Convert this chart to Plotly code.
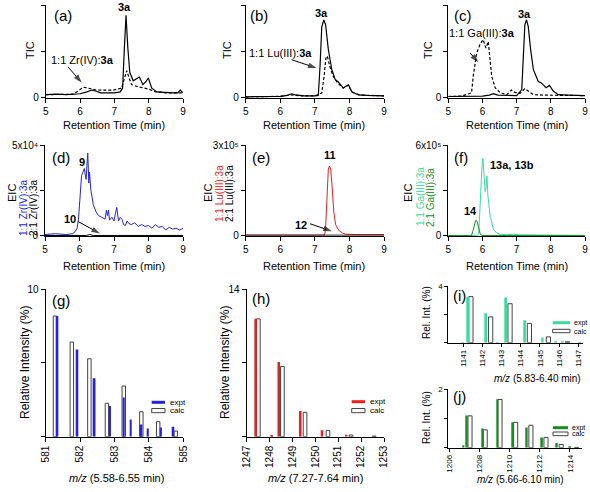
import plotly.graph_objects as go

W, H = 590, 492
def fx(px): return px / W
def fy(py): return 1 - py / H

# ---------------- DATA ----------------
# (a) TIC, units of 1e6
a_x_solid = [5.0, 5.3, 5.6, 5.9, 6.0, 6.2, 6.35, 6.45, 6.6, 6.8, 7.0, 7.17, 7.24, 7.29, 7.34, 7.39, 7.45, 7.55, 7.65, 7.73, 7.83, 7.92, 7.99, 8.09, 8.24, 8.5, 8.7, 8.85, 8.92, 9.0]
a_y_solid = [0.03, 0.035, 0.03, 0.035, 0.04, 0.06, 0.08, 0.07, 0.05, 0.05, 0.05, 0.06, 0.1, 0.52, 0.89, 0.55, 0.27, 0.18, 0.2, 0.22, 0.14, 0.17, 0.21, 0.1, 0.06, 0.05, 0.05, 0.05, 0.08, 0.05]
a_x_dash = [5.0, 5.4, 5.8, 5.95, 6.05, 6.12, 6.24, 6.48, 6.75, 6.97, 7.21, 7.28, 7.36, 7.44, 7.5, 7.65, 7.85, 8.0, 8.2, 8.5, 9.0]
a_y_dash = [0.03, 0.03, 0.035, 0.07, 0.1, 0.11, 0.1, 0.08, 0.08, 0.08, 0.1, 0.2, 0.29, 0.2, 0.14, 0.12, 0.1, 0.09, 0.06, 0.05, 0.05]

# (b) TIC, units of 1e6
b_x_solid = [5.0, 5.5, 6.0, 6.2, 6.33, 6.45, 6.7, 7.0, 7.1, 7.15, 7.2, 7.26, 7.31, 7.39, 7.49, 7.59, 7.68, 7.82, 7.9, 7.97, 8.07, 8.26, 8.5, 9.0]
b_y_solid = [0.02, 0.025, 0.03, 0.05, 0.085, 0.06, 0.04, 0.04, 0.05, 0.68, 1.53, 1.68, 1.58, 1.04, 0.61, 0.39, 0.34, 0.21, 0.24, 0.28, 0.13, 0.06, 0.05, 0.04]
b_x_dash = [5.0, 5.5, 6.0, 6.3, 6.6, 7.0, 7.2, 7.27, 7.32, 7.36, 7.43, 7.52, 7.66, 7.82, 7.97, 8.07, 8.3, 8.6, 9.0]
b_y_dash = [0.02, 0.02, 0.03, 0.06, 0.04, 0.04, 0.1, 0.48, 0.86, 0.9, 0.68, 0.48, 0.32, 0.21, 0.27, 0.12, 0.06, 0.05, 0.04]

# (c) TIC, units of 1e6
c_x_solid = [5.0, 5.5, 6.0, 6.2, 6.32, 6.45, 6.7, 7.0, 7.15, 7.2, 7.24, 7.29, 7.34, 7.41, 7.49, 7.63, 7.73, 7.86, 7.96, 8.07, 8.22, 8.5, 9.0]
c_y_solid = [0.02, 0.02, 0.03, 0.05, 0.08, 0.05, 0.04, 0.04, 0.17, 1.03, 1.57, 1.68, 1.53, 1.03, 0.6, 0.35, 0.31, 0.21, 0.26, 0.14, 0.06, 0.05, 0.04]
c_x_dash = [5.0, 5.4, 5.68, 5.73, 5.83, 5.93, 6.02, 6.1, 6.17, 6.27, 6.37, 6.52, 6.71, 6.85, 6.95, 7.1, 7.24, 7.34, 7.49, 7.8, 8.3, 9.0]
c_y_dash = [0.02, 0.03, 0.1, 0.46, 0.96, 1.15, 1.25, 1.07, 1.21, 0.46, 0.21, 0.1, 0.06, 0.16, 0.11, 0.09, 0.19, 0.14, 0.06, 0.05, 0.04, 0.04]

# (d) EIC, units of 1e4
d_x_11 = [5.0, 5.3, 5.6, 5.8, 5.87, 5.93, 5.97, 6.02, 6.06, 6.10, 6.14, 6.19, 6.24, 6.27, 6.29, 6.33, 6.40, 6.48, 6.55, 6.65, 6.74, 6.78, 6.81, 6.84, 6.87, 6.94, 7.0, 7.04, 7.08, 7.13, 7.18, 7.23, 7.28, 7.33, 7.38, 7.43, 7.5, 7.6, 7.7, 7.8, 7.9, 8.0, 8.1, 8.2, 8.3, 8.4, 8.5, 8.6, 8.7, 8.8, 8.9, 8.96, 9.0]
d_y_11 = [0.05, 0.1, 0.05, 0.1, 0.2, 0.4, 0.9, 2.0, 3.3, 3.5, 3.7, 3.1, 4.55, 2.9, 3.5, 2.5, 1.7, 1.3, 1.1, 1.0, 0.9, 1.4, 1.1, 1.4, 0.85, 1.0, 0.8, 1.2, 1.55, 0.8, 1.0, 0.9, 0.6, 0.55, 0.8, 0.66, 0.6, 0.7, 0.5, 0.6, 0.5, 0.55, 0.4, 0.6, 0.45, 0.5, 0.3, 0.45, 0.35, 0.4, 0.3, 0.35, 0.4]
d_x_21 = [5.0, 6.2, 6.3, 6.4, 9.0]
d_y_21 = [0.0, 0.0, 0.05, 0.0, 0.0]

# (e) EIC, units of 1e5
e_x_11 = [5.0, 7.28, 7.31, 7.33, 7.36, 7.39, 7.42, 7.46, 7.5, 7.55, 7.6, 7.7, 7.8, 7.9, 8.2, 8.6, 9.0]
e_y_11 = [0.0, 0.0, 0.2, 0.8, 1.6, 2.2, 2.3, 2.2, 1.6, 0.75, 0.35, 0.15, 0.07, 0.03, 0.02, 0.02, 0.02]
e_x_21 = [5.0, 9.0]
e_y_21 = [0.0, 0.0]

# (f) EIC, units of 1e5
f_x_11 = [5.0, 5.85, 5.89, 5.93, 5.98, 6.01, 6.04, 6.08, 6.11, 6.13, 6.16, 6.18, 6.21, 6.23, 6.26, 6.32, 6.42, 6.52, 6.7, 6.9, 7.1, 7.4, 7.6, 9.0]
f_y_11 = [0.0, 0.0, 0.1, 2.4, 4.35, 5.1, 4.0, 2.9, 3.2, 3.95, 2.6, 2.1, 1.65, 1.2, 1.0, 0.4, 0.15, 0.08, 0.05, 0.08, 0.04, 0.03, 0.0, 0.0]
f_x_21 = [5.0, 5.68, 5.72, 5.76, 5.8, 5.84, 5.89, 5.94, 6.0, 9.0]
f_y_21 = [0.0, 0.0, 0.3, 0.75, 1.0, 0.95, 0.5, 0.05, 0.0, 0.0]

# (g) isotope pattern, m/z 581-585
g_calc_mz = [581.27, 581.76, 582.27, 582.78, 583.27, 583.78, 584.27, 584.78]
g_calc_int = [8.17, 6.41, 5.28, 2.26, 3.43, 1.69, 1.02, 0.38]
g_expt_mz = [581.34, 581.92, 582.42, 582.87, 583.27, 583.47, 583.78, 583.97, 584.35, 584.71]
g_expt_int = [8.17, 5.91, 3.95, 2.08, 2.66, 1.17, 0.83, 0.56, 0.63, 0.68]

# (h) isotope pattern, m/z 1247-1253
h_expt_mz = [1247.39, 1248.09, 1248.40, 1249.34, 1250.29, 1251.35]
h_expt_int = [11.17, 0.1, 7.09, 2.44, 0.6, 0.19]
h_calc_mz = [1247.51, 1248.56, 1249.55, 1250.55, 1251.56, 1252.57]
h_calc_int = [11.17, 6.65, 2.31, 0.6, 0.16, 0.06]

# (i) isotope pattern, m/z 1141-1147
i_expt_mz = [1140.97, 1141.26, 1142.19, 1142.8, 1143.23, 1144.22, 1145.14, 1145.83, 1146.18, 1147.1]
i_expt_int = [0.02, 3.25, 2.07, 0.02, 3.18, 1.59, 0.36, 0.05, 0.09, 0.03]
i_calc_mz = [1141.40, 1142.43, 1143.44, 1144.45, 1145.44, 1146.43]
i_calc_int = [3.25, 1.82, 2.75, 1.36, 0.41, 0.07]

# (j) isotope pattern, m/z 1206-1214
j_expt_mz = [1206.93, 1207.15, 1208.21, 1209.18, 1210.2, 1211.13, 1212.14, 1213.12, 1214.0]
j_expt_int = [0.08, 1.10, 0.66, 1.66, 0.87, 0.69, 0.35, 0.16, 0.02]
j_calc_mz = [1207.37, 1208.38, 1209.36, 1210.4, 1211.41, 1212.41, 1213.42, 1214.44]
j_calc_int = [1.09, 0.61, 1.65, 0.87, 0.77, 0.35, 0.11, 0.01]

# tick labels
rt_ticks = [5, 6, 7, 8, 9]
g_ticks = [581, 582, 583, 584, 585]
h_ticks = [1247, 1248, 1249, 1250, 1251, 1252, 1253]
i_ticks = [1141, 1142, 1143, 1144, 1145, 1146, 1147]
j_ticks = [1206, 1208, 1210, 1212, 1214]

# ---------------- STYLE ----------------
FONT = "Liberation Sans, Arial, sans-serif"
BLUE = "#2323dd"
RED = "#ee1c1c"
MINT = "#38dc9c"
DKGREEN = "#178c1f"
CALC_LINE = "#444444"

# panel pixel boxes: left, right, top, bottom
boxes = {
    1: (45.7, 183.0, 5.0, 98.0),
    2: (245.7, 384.0, 5.0, 98.3),
    3: (448.3, 585.0, 5.0, 98.0),
    4: (45.0, 183.0, 145.0, 236.0),
    5: (245.7, 384.0, 145.0, 235.7),
    6: (448.3, 585.0, 145.0, 236.0),
    7: (45.7, 183.3, 289.0, 436.7),
    8: (246.7, 384.0, 289.0, 436.7),
    9: (448.3, 582.7, 286.0, 342.7),
    10: (448.3, 581.7, 389.3, 447.7),
}

fig = go.Figure()

def ax(i):
    return ("x" if i == 1 else f"x{i}"), ("y" if i == 1 else f"y{i}")

def line(i, x, y, color, width=1.2, dash=None):
    xa, ya = ax(i)
    fig.add_trace(go.Scatter(x=x, y=y, mode="lines", xaxis=xa, yaxis=ya,
                             line=dict(color=color, width=width, dash=dash),
                             showlegend=False, hoverinfo="x+y"))

def bars(i, x, y, width, fill, outline=None):
    xa, ya = ax(i)
    mk = dict(color=fill, line=dict(width=0))
    if outline:
        mk["line"] = dict(color=outline, width=1)
    fig.add_trace(go.Bar(x=x, y=y, width=width, xaxis=xa, yaxis=ya,
                         marker=mk, showlegend=False))

DASH = "3px,2px"
line(1, a_x_dash, a_y_dash, "black", 1.2, DASH)
line(1, a_x_solid, a_y_solid, "black", 1.2)
line(2, b_x_dash, b_y_dash, "black", 1.2, DASH)
line(2, b_x_solid, b_y_solid, "black", 1.2)
line(3, c_x_dash, c_y_dash, "black", 1.2, DASH)
line(3, c_x_solid, c_y_solid, "black", 1.2)

line(4, d_x_11, d_y_11, BLUE, 1.0)
line(4, d_x_21, d_y_21, "black", 1.0)
line(5, e_x_11, e_y_11, RED, 1.0)
line(5, e_x_21, e_y_21, "black", 1.0)
line(6, f_x_11, f_y_11, MINT, 1.0)
line(6, f_x_21, f_y_21, DKGREEN, 1.0)

bars(7, g_calc_mz, g_calc_int, 0.1, "white", CALC_LINE)
bars(7, g_expt_mz, g_expt_int, 0.055, BLUE)
bars(8, h_calc_mz, h_calc_int, 0.16, "white", CALC_LINE)
bars(8, h_expt_mz, h_expt_int, 0.11, RED)
bars(9, i_calc_mz, i_calc_int, 0.22, "white", CALC_LINE)
bars(9, i_expt_mz, i_expt_int, 0.1, MINT)
bars(10, j_calc_mz, j_calc_int, 0.27, "white", CALC_LINE)
bars(10, j_expt_mz, j_expt_int, 0.13, DKGREEN)

# ---------------- ARROWS (annotation pointers) ----------------
def arrow(i, tx, ty, hx, hy):
    xa, ya = ax(i)
    fig.add_trace(go.Scatter(x=[tx, hx], y=[ty, hy], mode="lines+markers",
                             xaxis=xa, yaxis=ya, showlegend=False, hoverinfo="skip",
                             line=dict(color="black", width=1),
                             marker=dict(symbol="arrow", size=[0, 9], color="black",
                                         angleref="previous", line=dict(width=0))))

arrow(1, 5.65, 0.33, 6.05, 0.16)
arrow(2, 6.33, 0.82, 7.05, 0.64)
arrow(3, 5.64, 0.96, 5.88, 0.76)
arrow(4, 5.96, 0.77, 6.59, 0.11)
arrow(5, 6.86, 0.38, 7.49, 0.13)

# ---------------- AXES ----------------
base = dict(showline=True, linecolor="black", linewidth=1, ticks="outside",
            ticklen=4, tickcolor="black", tickwidth=1, showgrid=False,
            zeroline=False, mirror=False, fixedrange=True, automargin=False,
            tickfont=dict(family=FONT, size=10, color="black"))

yspec = {
    1: (1.0, "1x10\u2076"), 2: (2.0, "2x10\u2076"), 3: (2.0, "2x10\u2076"),
    4: (5.0, "5x10\u2074"), 5: (3.0, "3x10\u2075"), 6: (6.0, "6x10\u2075"),
}
xspec = {
    7: (581, 585, g_ticks, 10), 8: (1247, 1253, h_ticks, 10),
    9: (1140.22, 1147.23, i_ticks, 8), 10: (1205.93, 1214.78, j_ticks, 8),
}
ymax_bars = {7: ("10", 10), 8: ("14", 14), 9: ("4", 4), 10: ("2", 2)}

layout = dict(width=W, height=H, margin=dict(l=0, r=0, t=0, b=0, autoexpand=False),
              paper_bgcolor="white", plot_bgcolor="white", template="none",
              barmode="overlay", font=dict(family=FONT, color="black"),
              showlegend=False)

for i, (l, r, t, b) in boxes.items():
    xk = "xaxis" if i == 1 else f"xaxis{i}"
    yk = "yaxis" if i == 1 else f"yaxis{i}"
    xa, ya = ax(i)
    xd = dict(base, domain=[fx(l), fx(r)], anchor=ya)
    yd = dict(base, domain=[fy(b), fy(t)], anchor=xa)
    tl = 3 if i >= 9 else 4
    if i <= 6:
        xd.update(range=[5, 9], tickmode="array", tickvals=rt_ticks,
                  ticktext=[str(v) for v in rt_ticks])
        top, lab = yspec[i]
        yd.update(range=[-0.006 * top, top], tickmode="array", tickvals=[0, top],
                  ticktext=["0", lab])
    else:
        lo, hi, tv, fs = xspec[i]
        xd.update(range=[lo, hi], tickmode="array", tickvals=tv,
                  ticktext=[str(v) for v in tv],
                  tickangle=-90, tickfont=dict(family=FONT, size=fs, color="black"))
        lab, top = ymax_bars[i]
        yd.update(range=[0, top], tickmode="array", tickvals=[top], ticktext=[lab],
                  tickfont=dict(family=FONT, size=(10 if i <= 8 else 8), color="black"))
        xd.update(ticklen=tl)
        yd.update(ticklen=tl)
    yd["minor"] = dict(tickmode="array", tickvals=[0, top / 2] if i >= 7 else [top / 2],
                       ticks="outside", ticklen=tl, tickcolor="black", tickwidth=1,
                       showgrid=False)
    layout[xk] = xd
    layout[yk] = yd

fig.update_layout(**layout)

# ---------------- TEXT ANNOTATIONS ----------------
anns = []
def ptext(px, py, text, size=11, angle=0, color="black", xanchor="center", yanchor="middle"):
    anns.append(dict(x=fx(px), y=fy(py), xref="paper", yref="paper", text=text,
                     showarrow=False, textangle=angle, xanchor=xanchor, yanchor=yanchor,
                     font=dict(family=FONT, size=size, color=color)))

def dtext(i, x, y, text, size=11, xanchor="center"):
    xa, ya = ax(i)
    anns.append(dict(x=x, y=y, xref=xa, yref=ya, text=text, showarrow=False,
                     xanchor=xanchor, yanchor="middle",
                     font=dict(family=FONT, size=size, color="black")))

# panel letters
for lab, px, py in [("(a)", 52, 15), ("(b)", 248, 15), ("(c)", 452, 15),
                    ("(d)", 50, 157), ("(e)", 250, 157), ("(f)", 452, 157),
                    ("(g)", 50, 300), ("(h)", 250, 298), ("(i)", 451, 295), ("(j)", 451, 396)]:
    ptext(px, py, lab, size=15, xanchor="left")

# y titles
for px in (30, 227, 428):
    ptext(px, 50, "TIC", angle=-90)
for px in (12, 208, 408):
    ptext(px, 193, "EIC", angle=-90)
ptext(23, 208, "1:1 Zr(IV):3a", size=10, angle=-90, color=BLUE)
ptext(33, 208, "2:1 Zr(IV):3a", size=10, angle=-90)
ptext(219, 194, "1:1 Lu(III):3a", size=10, angle=-90, color=RED)
ptext(229, 194, "2:1 Lu(III):3a", size=10, angle=-90)
ptext(420, 197, "1:1 Ga(III):3a", size=10, angle=-90, color=MINT)
ptext(430, 197, "2:1 Ga(III):3a", size=10, angle=-90, color=DKGREEN)
ptext(25, 363, "Relative Intensity (%)", size=12, angle=-90)
ptext(225, 363, "Relative Intensity (%)", size=12, angle=-90)
ptext(426, 313, "Rel. Int. (%)", size=10, angle=-90)
ptext(426, 418, "Rel. Int. (%)", size=10, angle=-90)

# x titles
for px in (114, 314, 517):
    ptext(px, 125, "Retention Time (min)", size=11)
    ptext(px, 266, "Retention Time (min)", size=11)
ptext(116, 478, "<i>m/z</i> (5.58-6.55 min)", size=11)
ptext(315, 478, "<i>m/z</i> (7.27-7.64 min)", size=11)
ptext(537, 378, "<i>m/z</i> (5.83-6.40 min)", size=10)
ptext(520, 479, "<i>m/z</i> (5.66-6.10 min)", size=10)

# in-plot labels
dtext(1, 7.31, 0.98, "<b>3a</b>")
dtext(1, 6.07, 0.40, "1:1 Zr(IV):<b>3a</b>")
dtext(2, 7.2, 1.83, "<b>3a</b>")
dtext(2, 6.0, 0.97, "1:1 Lu(III):<b>3a</b>")
dtext(3, 7.24, 1.81, "<b>3a</b>")
dtext(3, 5.99, 1.40, "1:1 Ga(III):<b>3a</b>")
dtext(4, 6.06, 4.08, "<b>9</b>")
dtext(4, 5.72, 0.93, "<b>10</b>")
dtext(5, 7.44, 2.67, "<b>11</b>")
dtext(5, 6.61, 0.35, "<b>12</b>")
dtext(6, 6.85, 4.68, "<b>13a, 13b</b>")
dtext(6, 5.64, 1.6, "<b>14</b>")

# mini legends (expt / calc)
shapes = []
for (x0, x1, ye, yc0, yc1, color, tx, fs) in [
        (151.7, 165.0, 402.3, 408.5, 412.7, BLUE, 167.5, 8),
        (351.7, 365.0, 401.7, 408.5, 412.7, RED, 367.5, 8),
        (552.7, 570.0, 322.7, 329.3, 332.7, MINT, 571.5, 7),
        (553.0, 568.0, 427.7, 432.0, 435.7, DKGREEN, 570.0, 7)]:
    shapes.append(dict(type="line", xref="paper", yref="paper", x0=fx(x0), x1=fx(x1),
                       y0=fy(ye), y1=fy(ye), line=dict(color=color, width=3)))
    shapes.append(dict(type="rect", xref="paper", yref="paper", x0=fx(x0), x1=fx(x1),
                       y0=fy(yc1), y1=fy(yc0), line=dict(color=CALC_LINE, width=1),
                       fillcolor="white"))
    ptext(tx, ye, "expt", size=fs, xanchor="left")
    ptext(tx, (yc0 + yc1) / 2, "calc", size=fs, xanchor="left")

fig.update_layout(annotations=anns, shapes=shapes)
fig.write_html("out.html", config={"displayModeBar": False},
               post_script="document.body.style.margin='0';document.body.style.overflow='hidden';")
